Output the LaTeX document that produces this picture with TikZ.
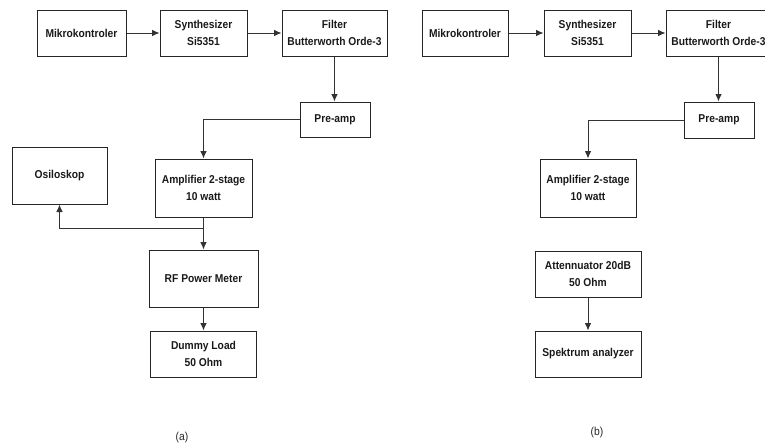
\documentclass[tikz,border=0pt]{standalone}
\usepackage{fontspec}
\setmainfont{Liberation Sans}
\newfontfamily\narrowsans[FakeStretch=0.9]{Liberation Sans}
\usetikzlibrary{arrows.meta}
\begin{document}
\begin{tikzpicture}[x=1pt,y=-1pt,
  blk/.style={draw=black!85,line width=1pt,inner sep=0pt,align=center,
    font=\narrowsans\fontsize{11.4}{17}\selectfont\bfseries,text=black!90},
  conn/.style={draw=black!80,line width=0.9pt,-{Latex[length=7.5pt,width=6.5pt]}},
  subcap/.style={font=\narrowsans\fontsize{11.5}{12}\selectfont,text=black!85}]
\useasboundingbox (0,0) rectangle (765,447);
% ---- (a)
\node[blk,minimum width=89pt,minimum height=46pt] (mk1) at (81.5,33) {Mikrokontroler};
\node[blk,minimum width=87pt,minimum height=46pt] (sy1) at (203.5,33) {Synthesizer\\Si5351};
\node[blk,minimum width=105pt,minimum height=46pt] (fi1) at (334.5,33) {Filter\\Butterworth Orde-3};
\node[blk,minimum width=70pt,minimum height=35pt] (pa1) at (335,119.5) {Pre-amp};
\node[blk,minimum width=95pt,minimum height=57pt] (os1) at (59.5,175.5) {Osiloskop};
\node[blk,minimum width=97pt,minimum height=58pt] (am1) at (203.5,188) {Amplifier 2-stage\\10 watt};
\node[blk,minimum width=109pt,minimum height=57pt] (rf1) at (203.5,278.5) {RF Power Meter};
\node[blk,minimum width=106pt,minimum height=46pt] (dl1) at (203.5,354) {Dummy Load\\50 Ohm};
\coordinate (br1) at (203.5,228);
\draw[conn] (mk1) -- (sy1);
\draw[conn] (sy1) -- (fi1);
\draw[conn] (fi1.south) -- (fi1.south |- pa1.north);
\draw[conn] (pa1.west) -| (am1.north);
\draw[conn] (am1.south) -- (rf1.north);
\draw[conn] (br1) -| (os1.south);
\draw[conn] (rf1.south) -- (dl1.north);
\node[subcap] (la) at (182,438) {(a)};
% ---- (b)
\node[blk,minimum width=86pt,minimum height=46pt] (mk2) at (465,33) {Mikrokontroler};
\node[blk,minimum width=87pt,minimum height=46pt] (sy2) at (587.5,33) {Synthesizer\\Si5351};
\node[blk,minimum width=105pt,minimum height=46pt] (fi2) at (718.5,33) {Filter\\Butterworth Orde-3};
\node[blk,minimum width=70pt,minimum height=36pt] (pa2) at (719,120) {Pre-amp};
\node[blk,minimum width=96pt,minimum height=58pt] (am2) at (588,188) {Amplifier 2-stage\\10 watt};
\node[blk,minimum width=106pt,minimum height=46pt] (at2) at (588,274) {Attennuator 20dB\\50 Ohm};
\node[blk,minimum width=106pt,minimum height=46pt] (sp2) at (588,354) {Spektrum analyzer};
\draw[conn] (mk2) -- (sy2);
\draw[conn] (sy2) -- (fi2);
\draw[conn] (fi2.south) -- (fi2.south |- pa2.north);
\draw[conn] (pa2.west) -| (am2.north);
\draw[conn] (at2.south) -- (sp2.north);
\node[subcap] (lb) at (597,433) {(b)};
\end{tikzpicture}
\end{document}
